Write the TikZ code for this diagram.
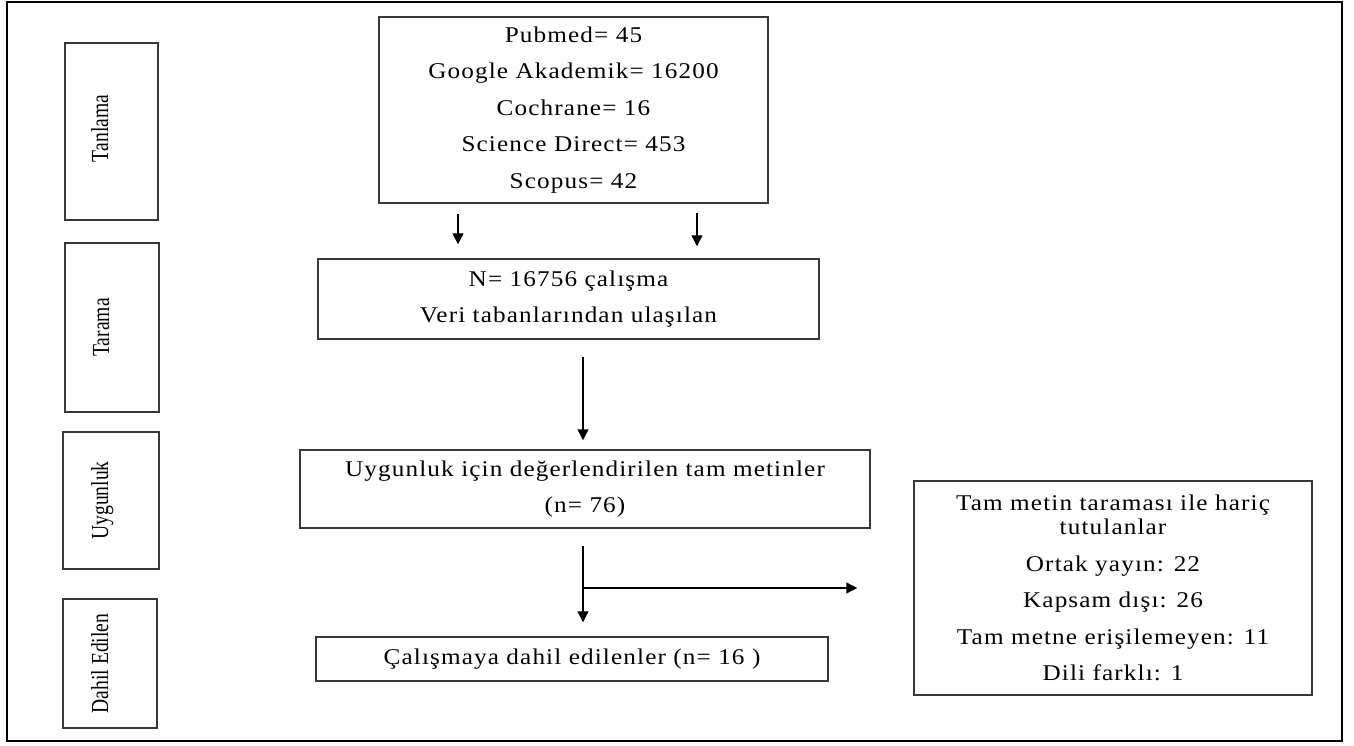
\documentclass[tikz,border=0pt]{standalone}
\usepackage{fontspec}
\setmainfont{Liberation Serif}[LetterSpace=5, FakeStretch=1.12]
\newfontfamily\sidefont{Liberation Serif}[FakeStretch=0.8]
\usetikzlibrary{arrows.meta}
\definecolor{boxgray}{gray}{0.22}
\tikzset{
  box/.style={draw=boxgray, line width=1.5pt, inner sep=0pt, align=center,
    font=\fontsize{22.5}{36.5}\selectfont},
  phase/.style={draw=boxgray, line width=1.5pt, inner sep=0pt},
  phasetext/.style={rotate=90, anchor=base, inner sep=0pt,
    font=\sidefont\fontsize{24.5}{24.5}\selectfont},
  arr/.style={-{Triangle[length=11pt,width=11pt]}, line width=1.3pt}
}

\begin{document}
\begin{tikzpicture}[x=1pt, y=-1pt]
  \useasboundingbox (0,0) rectangle (1354,745);
  \draw[line width=2.5pt] (7,2) rectangle (1342,741);

  % phases on the left
  \node[phase, minimum width=93pt, minimum height=177pt] at (111.5, 131.5) (tanlama) {};
  \node[phasetext] at ([xshift=-3.5pt, yshift=3pt]tanlama.center) {Tanlama};
  \node[phase, minimum width=94pt, minimum height=169pt] at (112, 327.5) (tarama) {};
  \node[phasetext] at ([xshift=-3pt]tarama.center) {Tarama};
  \node[phase, minimum width=96pt, minimum height=137pt] at (111, 500.5) (uygunluk) {};
  \node[phasetext] at ([xshift=-3pt]uygunluk.center) {Uygunluk};
  \node[phase, minimum width=94pt, minimum height=129pt] at (110, 663.5) (dahil) {};
  \node[phasetext] at ([xshift=-2pt]dahil.center) {Dahil Edilen};

  % flow
  \node[box, minimum width=389pt, minimum height=186pt] at (573.5, 110) (db){%
    Pubmed= 45\\
    Google Akademik= 16200\\
    Cochrane= 16\\
    Science Direct= 453\\
    Scopus= 42};
  \node[box, minimum width=501pt, minimum height=80pt] at (568.5, 299) (total){%
    N= 16756 çalışma\\
    Veri tabanlarından ulaşılan};
  \node[box, minimum width=570pt, minimum height=78pt] at (585, 489) (elig){%
    Uygunluk için değerlendirilen tam metinler\\
    (n= 76)};
  \node[box, minimum width=512pt, minimum height=44pt] at (572, 659) (incl){%
    Çalışmaya dahil edilenler (n= 16 )};
  \node[box, minimum width=398pt, minimum height=214pt] at (1113, 588) (excl){%
    Tam metin taraması ile hariç\\[-12pt]
    tutulanlar\\
    Ortak yayın: 22\\
    Kapsam dışı: 26\\
    Tam metne erişilemeyen: 11\\
    Dili farklı: 1};

  \draw[arr, shorten <=10pt, shorten >=14pt] ([xshift=-115.5pt]db.south)
    -- ([xshift=-115.5pt]db.south |- total.north);
  \draw[arr, shorten <=9pt, shorten >=12pt] ([xshift=123.5pt]db.south)
    -- ([xshift=123.5pt]db.south |- total.north);
  \draw[arr, shorten <=17pt, shorten >=9pt] ([xshift=14.5pt]total.south)
    -- ([xshift=14.5pt]total.south |- elig.north);
  \draw[arr, shorten <=17pt, shorten >=14pt] ([xshift=-2pt]elig.south)
    -- ([xshift=-2pt]elig.south |- incl.north);
  \coordinate (split) at ([xshift=-2pt]elig.south |- excl.west);
  \draw[arr, shorten >=56pt] (split) -- (excl.west);
\end{tikzpicture}
\end{document}
